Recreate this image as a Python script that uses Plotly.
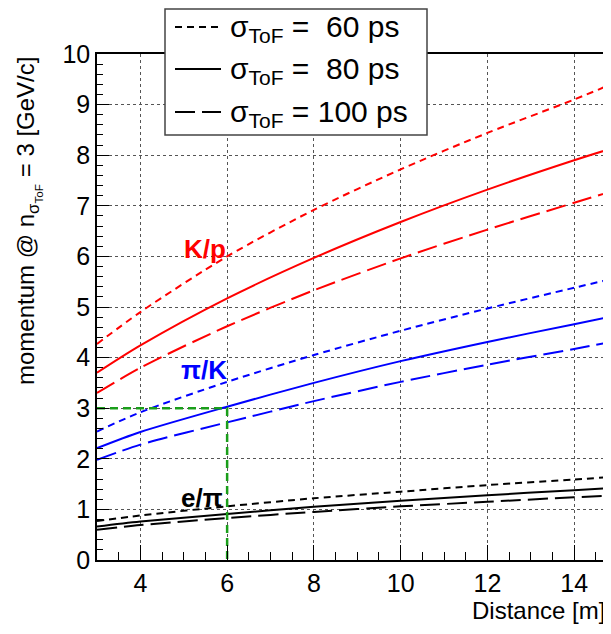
import plotly.graph_objects as go

# ---- data ----
distance = [3, 4, 6, 8, 10, 12, 14, 14.85]

kp_60 = [4.27, 4.90, 6.00, 6.92, 7.72, 8.44, 9.10, 9.40]
kp_80 = [3.70, 4.24, 5.17, 5.97, 6.68, 7.32, 7.90, 8.13]
kp_100 = [3.30, 3.80, 4.62, 5.33, 5.96, 6.53, 7.06, 7.28]

pik_60 = [2.54, 2.92, 3.52, 4.05, 4.53, 4.97, 5.38, 5.55]
pik_80 = [2.21, 2.53, 3.03, 3.50, 3.93, 4.31, 4.66, 4.81]
pik_100 = [1.98, 2.28, 2.72, 3.14, 3.52, 3.86, 4.17, 4.31]

epi_60 = [0.77, 0.88, 1.06, 1.22, 1.35, 1.48, 1.59, 1.64]
epi_80 = [0.66, 0.76, 0.91, 1.05, 1.17, 1.28, 1.38, 1.42]
epi_100 = [0.60, 0.69, 0.83, 0.95, 1.06, 1.15, 1.24, 1.27]

legend_labels = ["σ<sub>ToF</sub> =  60 ps", "σ<sub>ToF</sub> =  80 ps", "σ<sub>ToF</sub> = 100 ps"]
pair_labels = ["K/p", "π/K", "e/π"]
marker_distance = 6
marker_momentum = 3

RED, BLUE, BLACK = "#ff0000", "#0000ff", "#000000"
GREEN = "#1a9e1a"
SHORT = "7px,5px"
LONG = "20px,7px"

# page body has an 8px default margin -> figure is 8px smaller, coordinates shifted
OFF = 8
W, H = 611 - OFF, 634 - OFF
ML, MR, MT, MB = 97 - OFF, 0, 54 - OFF, 74
PW, PH = W - ML - MR, H - MT - MB


def px2x(px):
    # px: horizontal position in the reference image
    return (px - OFF - ML) / PW


def py2y(py):
    # py: vertical position in the reference image
    return (H - MB - (py - OFF)) / PH


fig = go.Figure()

series = [
    (kp_60, RED, SHORT), (kp_80, RED, "solid"), (kp_100, RED, LONG),
    (pik_60, BLUE, SHORT), (pik_80, BLUE, "solid"), (pik_100, BLUE, LONG),
    (epi_60, BLACK, SHORT), (epi_80, BLACK, "solid"), (epi_100, BLACK, LONG),
]
for vals, col, dash in series:
    fig.add_trace(go.Scatter(x=distance, y=vals, mode="lines",
                             line=dict(color=col, width=2, dash=dash, shape="spline", smoothing=0.8),
                             showlegend=False, hoverinfo="skip"))

# green marker lines at 6 m / 3 GeV/c
fig.add_trace(go.Scatter(x=[distance[0], marker_distance, marker_distance],
                         y=[marker_momentum, marker_momentum, 0], mode="lines",
                         line=dict(color=GREEN, width=2.5, dash="8px,5px"),
                         showlegend=False, hoverinfo="skip"))

FONT = "Liberation Sans, Arial, Helvetica, sans-serif"

fig.update_layout(
    width=W, height=H,
    margin=dict(l=ML, r=MR, t=MT, b=MB, autoexpand=False),
    paper_bgcolor="white", plot_bgcolor="white",
    font=dict(family=FONT, color="black"),
    showlegend=False,
    xaxis=dict(range=[3, 14.85], tick0=0, dtick=2, ticks="inside", ticklen=15,
               tickwidth=1, tickcolor="black", showline=True, linecolor="black",
               linewidth=1.5, mirror=True, showgrid=True, gridcolor="#555555",
               griddash="dot", gridwidth=1, zeroline=False, automargin=False,
               tickfont=dict(size=25, family=FONT),
               minor=dict(dtick=0.5, ticks="inside", ticklen=8, tickcolor="black", showgrid=False)),
    yaxis=dict(range=[0, 10], tick0=0, dtick=1, ticks="inside", ticklen=12,
               tickwidth=1, tickcolor="black", showline=True, linecolor="black",
               linewidth=1.5, mirror=False, showgrid=True, gridcolor="#555555",
               griddash="dot", gridwidth=1, zeroline=False, automargin=False,
               tickfont=dict(size=25, family=FONT),
               minor=dict(dtick=0.2, ticks="inside", ticklen=6, tickcolor="black", showgrid=False)),
)

annotations = []
# axis titles
annotations.append(dict(text="momentum @ n<sub>σ<sub>ToF</sub></sub> = 3 [GeV/c]",
                         xref="paper", yref="paper", x=px2x(28), y=py2y(55),
                         xanchor="center", yanchor="top", textangle=-90,
                         showarrow=False, font=dict(size=24, family=FONT)))
annotations.append(dict(text="Distance [m]", xref="paper", yref="paper",
                         x=px2x(607), y=py2y(610), xanchor="right", yanchor="middle",
                         showarrow=False, font=dict(size=24, family=FONT)))
# pair labels
for lab, col, (cx, cy) in zip(pair_labels, [RED, BLUE, BLACK], [(205, 249), (204, 370), (202, 498)]):
    annotations.append(dict(text="<b>%s</b>" % lab, xref="paper", yref="paper",
                             x=px2x(cx), y=py2y(cy), xanchor="center", yanchor="middle",
                             showarrow=False, font=dict(size=26, family=FONT, color=col)))

shapes = []
# legend box
shapes.append(dict(type="rect", xref="paper", yref="paper",
                   x0=px2x(165), x1=px2x(427), y0=py2y(135), y1=py2y(9),
                   line=dict(color="#444444", width=1.5), fillcolor="white", layer="above"))
for i, (lab, dash) in enumerate(zip(legend_labels, [SHORT, "solid", LONG])):
    rowy = [27, 69, 112][i]
    shapes.append(dict(type="line", xref="paper", yref="paper",
                       x0=px2x(175), x1=px2x(221), y0=py2y(rowy), y1=py2y(rowy),
                       line=dict(color="black", width=2, dash=dash), layer="above"))
    annotations.append(dict(text=lab, xref="paper", yref="paper",
                             x=px2x(228), y=py2y(rowy + 1), xanchor="left", yanchor="middle",
                             showarrow=False, font=dict(size=30, family=FONT)))

fig.update_layout(annotations=annotations, shapes=shapes)

fig.write_html("out.html")
